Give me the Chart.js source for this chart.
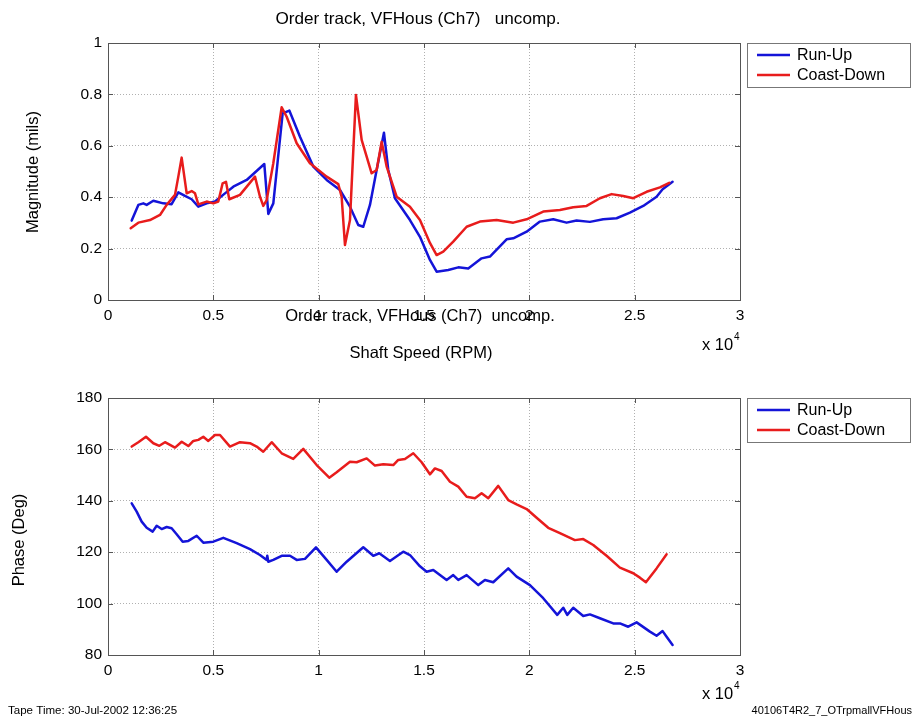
<!DOCTYPE html>
<html>
<head>
<meta charset="utf-8">
<script src="https://cdn.jsdelivr.net/npm/chart.js@4/dist/chart.umd.min.js"></script>
<style>
  html, body { margin: 0; padding: 0; background: #fff; }
  #wrap { position: relative; width: 916px; height: 720px; }
  canvas { position: absolute; left: 0; top: 0; }
</style>
</head>
<body>
<div id="wrap">
  <canvas id="magChart" width="916" height="720"></canvas>
  <canvas id="phaseChart" width="916" height="720"></canvas>
</div>
<script>
// Shaft speed (RPM) and order-track magnitude (mils)
const upMagRpm = [1125,1440,1677,1835,2151,2626,3020,3338,3655,3971,4288,4683,5078,5553,5949,6582,7420,7610,7847,8290,8607,9113,9746,10380,11011,11486,11880,12117,12435,12752,13099,13304,13621,14333,14808,15282,15600,16152,16626,17101,17734,18130,18921,19238,19872,20503,21135,21767,22243,22876,23508,24142,24775,25406,26040,26326,26800];
const upMag = [0.309,0.370,0.376,0.370,0.386,0.376,0.373,0.419,0.405,0.392,0.363,0.376,0.383,0.415,0.441,0.467,0.529,0.335,0.376,0.726,0.737,0.635,0.519,0.467,0.428,0.363,0.292,0.285,0.370,0.506,0.651,0.506,0.396,0.311,0.246,0.156,0.110,0.117,0.127,0.123,0.162,0.169,0.236,0.240,0.266,0.305,0.314,0.301,0.309,0.304,0.314,0.318,0.340,0.366,0.402,0.431,0.460];

const downMagRpm = [1077,1440,1993,2468,2785,3180,3338,3496,3735,3971,4130,4288,4683,4998,5236,5442,5600,5757,6265,6977,7214,7370,7532,7847,8244,8481,8956,9587,10380,10930,11090,11248,11486,11770,12041,12515,12752,12990,13227,13702,14333,14808,15282,15600,15913,16388,17024,17655,18448,19238,19872,20660,21452,22084,22719,23350,23906,24457,24932,25567,26199,26641];
const downMag = [0.279,0.301,0.311,0.331,0.370,0.409,0.480,0.554,0.415,0.424,0.415,0.372,0.383,0.376,0.383,0.454,0.460,0.392,0.409,0.480,0.402,0.366,0.389,0.532,0.750,0.713,0.610,0.532,0.480,0.451,0.402,0.214,0.311,0.798,0.623,0.493,0.506,0.616,0.519,0.402,0.363,0.311,0.222,0.175,0.188,0.227,0.285,0.305,0.311,0.301,0.314,0.344,0.350,0.361,0.366,0.396,0.412,0.405,0.396,0.421,0.438,0.456];

// Shaft speed (RPM) and phase (deg)
const upPhaseRpm = [1125,1362,1599,1836,2120,2311,2548,2785,3021,3259,3544,3813,4210,4525,5000,5474,6108,6740,7214,7532,7560,7610,7847,8244,8638,8956,9350,9872,10380,10854,11329,12117,12591,12876,13384,14015,14333,14808,15124,15440,16074,16388,16626,17024,17575,17893,18287,18999,19395,20028,20660,21325,21610,21799,22084,22559,22876,23350,23983,24300,24694,25093,25723,26040,26326,26516,26800];
const upPhase = [139.0,135.8,131.9,129.5,128.0,130.3,129.0,129.8,129.3,127.0,124.1,124.4,126.4,123.7,124.1,125.6,123.5,121.2,118.9,117.0,118.6,116.3,117.0,118.6,118.6,117.0,117.4,121.9,117.0,112.4,116.3,121.9,118.6,119.6,116.6,120.2,118.9,114.5,112.4,113.1,109.2,111.1,109.2,111.1,107.2,109.2,108.3,113.7,110.5,107.2,102.1,95.6,98.4,95.6,98.4,95.2,95.8,94.3,92.3,92.3,91.0,92.7,89.1,87.5,89.3,87.1,83.9];

const downPhaseRpm = [1125,1440,1803,2151,2436,2705,3180,3498,3813,4050,4288,4525,4762,5078,5316,5790,6265,6740,7057,7370,7769,8244,8794,9269,9905,10503,10854,11486,11803,12278,12672,13067,13541,13778,14096,14491,14888,15282,15519,15838,16232,16626,17024,17418,17734,18050,18524,18999,19395,19872,20346,20897,21452,22163,22559,23033,23667,24300,24932,25249,25534,26040,26516];
const downPhase = [161.1,162.8,164.9,162.4,161.4,162.8,160.7,163.0,161.3,163.3,163.7,164.9,163.3,165.6,165.6,161.1,162.8,162.4,161.1,159.1,162.8,158.5,156.3,160.2,153.9,149.0,151.1,155.2,155.0,156.5,153.7,154.2,153.9,155.9,156.3,158.5,155.0,150.3,152.6,151.6,147.4,145.5,141.6,141.0,142.9,141.0,145.8,140.3,138.6,136.8,133.4,129.5,127.4,124.7,125.1,122.8,118.6,114.0,111.8,110.1,108.3,113.7,119.2];

const seriesNames = ['Run-Up', 'Coast-Down'];
const seriesColors = ['#1414d8', '#e81c1c'];
const titleText = 'Order track, VFHous (Ch7)   uncomp.';
const xTickValues = [0, 5000, 10000, 15000, 20000, 25000, 30000];

const FONT = '"Liberation Sans", Arial, Helvetica, sans-serif';

function pts(xs, ys) { return xs.map((x, i) => ({ x: x, y: ys[i] })); }

// Box frame with inward tick marks on all four sides
const framePlugin = {
  id: 'frame',
  afterDatasetsDraw(chart) {
    const { ctx, chartArea: a, scales } = chart;
    ctx.save();
    ctx.strokeStyle = '#555';
    ctx.lineWidth = 1;
    ctx.strokeRect(Math.round(a.left) + 0.5, Math.round(a.top) + 0.5,
                   Math.round(a.right - a.left), Math.round(a.bottom - a.top));
    const L = 5;
    ctx.beginPath();
    scales.x.ticks.forEach(t => {
      const px = Math.round(scales.x.getPixelForValue(t.value)) + 0.5;
      ctx.moveTo(px, a.bottom); ctx.lineTo(px, a.bottom - L);
      ctx.moveTo(px, a.top); ctx.lineTo(px, a.top + L);
    });
    scales.y.ticks.forEach(t => {
      const py = Math.round(scales.y.getPixelForValue(t.value)) + 0.5;
      ctx.moveTo(a.left, py); ctx.lineTo(a.left + L, py);
      ctx.moveTo(a.right, py); ctx.lineTo(a.right - L, py);
    });
    ctx.stroke();
    ctx.restore();
  }
};

// Boxed legend to the right of the axes
const boxLegendPlugin = {
  id: 'boxLegend',
  afterDraw(chart, args, opts) {
    const { ctx, chartArea: a } = chart;
    const x0 = a.right + 7, y0 = a.top, w = 163, h = 44;
    ctx.save();
    ctx.fillStyle = '#fff';
    ctx.fillRect(x0, y0, w, h);
    ctx.strokeStyle = '#777';
    ctx.lineWidth = 1;
    ctx.strokeRect(x0 + 0.5, y0 + 0.5, w, h);
    ctx.font = '16px ' + FONT;
    ctx.textBaseline = 'middle';
    opts.names.forEach((name, i) => {
      const cy = y0 + 12 + i * 20;
      ctx.strokeStyle = opts.colors[i];
      ctx.lineWidth = 2.5;
      ctx.beginPath();
      ctx.moveTo(x0 + 10, cy); ctx.lineTo(x0 + 43, cy);
      ctx.stroke();
      ctx.fillStyle = '#000';
      ctx.fillText(name, x0 + 50, cy + 1);
    });
    ctx.restore();
  }
};

// Free-standing text: titles, axis titles, exponent, footers
const textPlugin = {
  id: 'freeText',
  afterDraw(chart, args, opts) {
    const { ctx } = chart;
    ctx.save();
    ctx.fillStyle = '#000';
    opts.items.forEach(it => {
      ctx.save();
      ctx.font = (it.size || 16.5) + 'px ' + FONT;
      ctx.textAlign = it.align || 'center';
      ctx.textBaseline = 'middle';
      ctx.translate(it.x, it.y);
      if (it.rot) ctx.rotate(it.rot);
      if (it.sx) ctx.scale(it.sx, 1);
      ctx.fillText(it.text, 0, 0);
      ctx.restore();
    });
    ctx.restore();
  }
};

function axisOptions(yMin, yMax, yStep, yFmt) {
  const tickFont = { family: FONT, size: 15.5 };
  return {
    x: {
      type: 'linear', min: 0, max: 30000,
      afterBuildTicks(s) { s.ticks = xTickValues.map(v => ({ value: v })); },
      ticks: { color: '#000', font: tickFont, padding: 6, autoSkip: false, maxRotation: 0,
               callback: v => String(v / 10000) },
      grid: { color: '#b0b0b0', lineWidth: 1, drawTicks: false },
      border: { display: false, dash: [1, 2] },
      afterFit(s) { s.height = 30; }
    },
    y: {
      min: yMin, max: yMax,
      ticks: { stepSize: yStep, color: '#000', font: tickFont, padding: 6, callback: yFmt },
      grid: { color: '#b0b0b0', lineWidth: 1, drawTicks: false },
      border: { display: false, dash: [1, 2] },
      afterFit(s) { s.width = 40; }
    }
  };
}

function makeChart(id, upData, downData, pad, scales, texts) {
  return new Chart(document.getElementById(id), {
    type: 'line',
    data: {
      datasets: [
        { label: seriesNames[0], data: upData, borderColor: seriesColors[0], order: 1 },
        { label: seriesNames[1], data: downData, borderColor: seriesColors[1], order: 0 }
      ]
    },
    options: {
      responsive: false,
      animation: false,
      layout: { padding: pad },
      elements: {
        point: { radius: 0 },
        line: { borderWidth: 2.5, tension: 0, fill: false, borderJoinStyle: 'round', borderCapStyle: 'round' }
      },
      plugins: {
        legend: { display: false },
        tooltip: { enabled: false },
        boxLegend: { names: seriesNames, colors: seriesColors },
        freeText: { items: texts }
      },
      scales: scales
    },
    plugins: [framePlugin, boxLegendPlugin, textPlugin]
  });
}

makeChart('magChart', pts(upMagRpm, upMag), pts(downMagRpm, downMag),
  { left: 68, top: 43, right: 176, bottom: 390 },
  axisOptions(0, 1, 0.2, v => String(Math.round(v * 10) / 10)),
  [
    { text: titleText, x: 418, y: 19, sx: 1.04 },
    { text: 'Magnitude (mils)', x: 33, y: 172, rot: -Math.PI / 2 },
    { text: 'Shaft Speed (RPM)', x: 421, y: 353 },
    { text: 'x 10', x: 702, y: 345, align: 'left' },
    { text: '4', x: 734, y: 337, size: 10, align: 'left' }
  ]);

makeChart('phaseChart', pts(upPhaseRpm, upPhase), pts(downPhaseRpm, downPhase),
  { left: 68, top: 398, right: 176, bottom: 35 },
  axisOptions(80, 180, 20, v => String(v)),
  [
    { text: 'Order track, VFHous (Ch7)  uncomp.', x: 420, y: 316 },
    { text: 'Phase (Deg)', x: 19, y: 540, rot: -Math.PI / 2 },
    { text: 'x 10', x: 702, y: 694, align: 'left' },
    { text: '4', x: 734, y: 686, size: 10, align: 'left' },
    { text: 'Tape Time: 30-Jul-2002 12:36:25', x: 8, y: 711, size: 11, align: 'left', sx: 1.05 },
    { text: '40106T4R2_7_OTrpmallVFHous', x: 912, y: 711, size: 11, align: 'right', sx: 1.0 }
  ]);
</script>
</body>
</html>
